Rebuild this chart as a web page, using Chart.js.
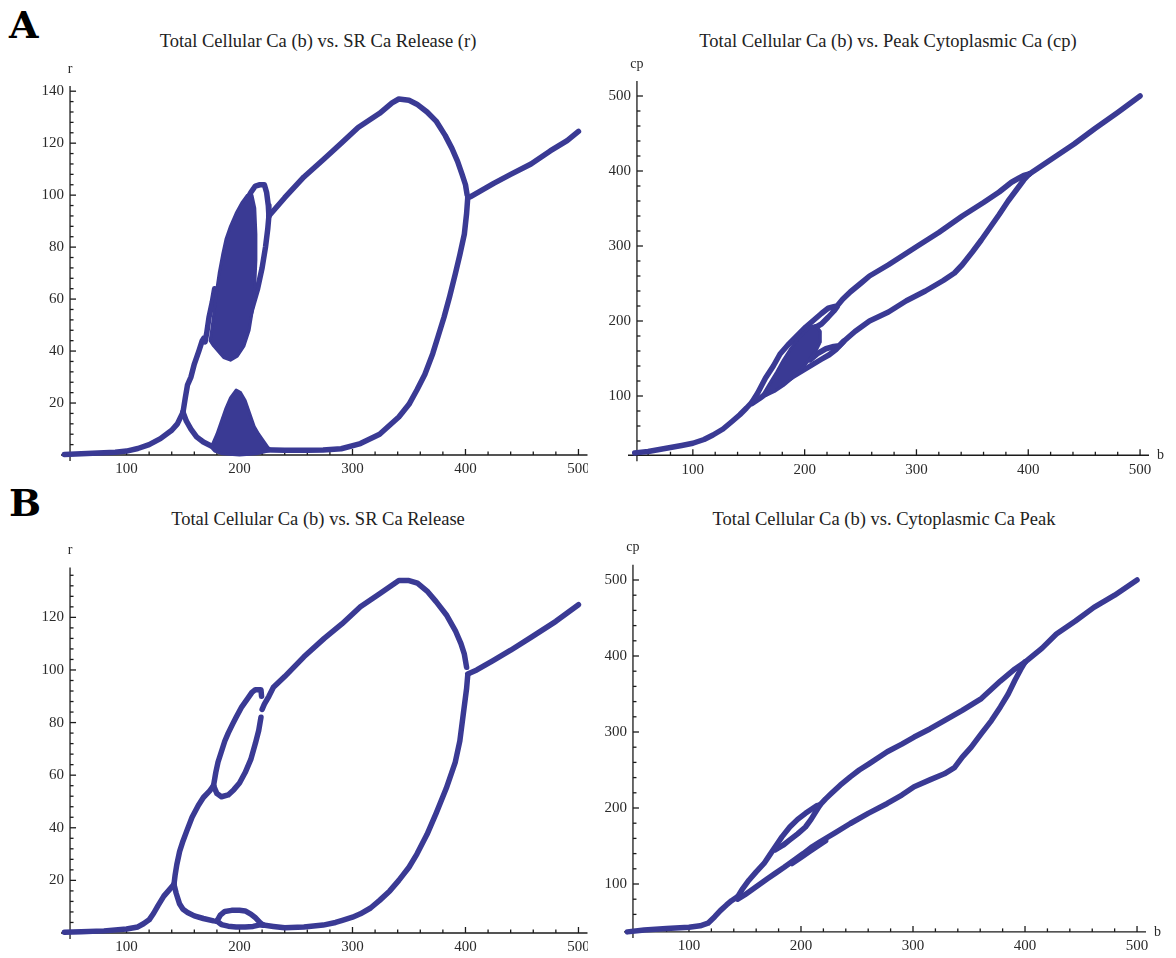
<!DOCTYPE html>
<html>
<head>
<meta charset="utf-8">
<script src="https://cdn.jsdelivr.net/npm/chart.js@4.4.1/dist/chart.umd.min.js"></script>
<style>
  html, body { margin: 0; padding: 0; background: #fff; }
  #page { position: relative; width: 1176px; height: 958px; overflow: hidden; }
  canvas { position: absolute; }
  .title { position: absolute; width: 588px; text-align: center; font: 18.5px "Liberation Serif", serif; color: #222; line-height: 21px; }
  .panel { position: absolute; font: bold 38px "DejaVu Serif", serif; color: #000; }
</style>
</head>
<body>
<div id="page">
  <div class="panel" style="left:9px;top:2px">A</div>
  <div class="panel" style="left:9px;top:480px">B</div>
  <div class="title" id="t0" style="left:24px;top:31px"></div>
  <div class="title" id="t1" style="left:594px;top:31px"></div>
  <div class="title" id="t2" style="left:24px;top:509px"></div>
  <div class="title" id="t3" style="left:590px;top:509px"></div>
  <canvas id="c0" width="588" height="479" style="left:0;top:0"></canvas>
  <canvas id="c1" width="588" height="479" style="left:588px;top:0"></canvas>
  <canvas id="c2" width="588" height="479" style="left:0;top:479px"></canvas>
  <canvas id="c3" width="588" height="479" style="left:588px;top:479px"></canvas>
</div>
<script>
// titres des quatre panneaux
const titles = [
  'Total Cellular Ca (b) vs. SR Ca Release (r)',
  'Total Cellular Ca (b) vs. Peak Cytoplasmic Ca (cp)',
  'Total Cellular Ca (b) vs. SR Ca Release',
  'Total Cellular Ca (b) vs. Cytoplasmic Ca Peak'
]

// graduations
const bTicks = [100, 200, 300, 400, 500]
const aRelTicks = [20, 40, 60, 80, 100, 120, 140]
const bRelTicks = [20, 40, 60, 80, 100, 120]
const cpTicks = [100, 200, 300, 400, 500]

// ---- Panneau A : libération SR r(b) ----
const aRelPeriod1 = [[45,0.2],[50,0.3],[60,0.5],[70,0.7],[80,0.9],[90,1.1],[100,1.5],[110,2.5],[120,4],[130,6.3],[140,9.5],[145,12],[150,16.5]]
const aRelLower = [[150,16.5],[153,13],[157,10],[162,7],[168,5],[175,3.5],[185,2.5],[200,2],[220,2],[240,1.8],[260,1.8],[274,1.9],[290,2.4],[307,4.4],[324,8],[341,14.6],[350,19.5],[357,25],[364,31],[371,39],[376,46],[381,53],[386,61],[391,69.7],[395,77],[399,85],[401,93],[402,99]]
const aRelUpper = [[150,16.5],[152,22],[154,27],[157,30],[160,35],[164,40],[167,44],[168.5,45],[169.5,43.5],[171,47],[173,53],[176,59],[178,64]]
const aRelChaosHigh = [[174,44],[176,50],[178,57],[180,64],[182,70],[185,77],[188,83],[192,88],[197,93],[202,97],[207,100],[211,100],[213.5,95],[214.5,85],[214.5,75],[213.5,65],[211.5,56],[208.5,48],[204,42],[198,38],[192,36.5],[186,37.5],[181,40],[177,42],[174,44]]
const aRelHump = [[200,92],[205,97],[210,101],[214,103.5],[218,104],[222,104],[224,101],[225.5,96],[226,92]]
const aRelRise = [[208,52],[212,58],[216,64],[220,72],[223,80],[225,87],[226,92]]
const aRelLoopTop = [[226,92],[230,94],[240,99],[257,107],[275,114],[290,120],[305,126],[324,131.5],[335,135.5],[341,137],[350,136.5],[357,135],[366,132],[374,128.5],[382,123],[388,118],[393,113],[397,108],[400,104],[401.5,100]]
const aRelChaosLow = [[175,3],[180,8],[184,13],[188,18],[192,22],[197,25],[201,24],[205,21],[209,16],[213,11],[217,8],[221,5.5],[225,3],[228,1.8],[215,0.5],[200,0],[185,0.5],[178,1.5],[175,3]]
const aRelTail = [[402,99],[405,99.5],[415,102],[425,104.5],[440,108],[458,112],[475,117],[490,121],[500,124.5]]

// ---- Panneau A : pic cytoplasmique cp(b) ----
const aCpPeriod1 = [[48,24],[50,24.5],[60,26],[75,30],[90,34],[100,37],[110,42],[118,48],[127,56],[135,66],[142,75],[148,84],[153,92]]
const aCpUpper = [[153,92],[158,104],[165,124],[172,140],[178,156],[185,168],[193,180],[201,192],[208,201],[215,210],[221,217],[226,219],[229,220],[234,229],[241,239],[250,250],[258,260],[275,275],[301,300],[320,318],[341,340],[360,358],[374,372],[385,385],[391,390],[396,394],[401,396]]
const aCpLower = [[153,90],[160,97],[168,106],[176,114],[185,122],[195,131],[205,140],[215,149],[222,155],[228,162],[235,173],[245,186],[258,200],[275,212],[291,227],[308,240],[324,254],[334,264],[341,275],[350,292],[358,308],[366,325],[374,342],[382,360],[391,378],[396,388],[401,396]]
const aCpSmallUp = [[201,186],[208,190],[215,196],[221,205],[226,213],[229,219]]
const aCpSmallLow = [[205,148],[212,157],[219,163],[226,166],[231,167],[235,173]]
const aCpChaos = [[162,100],[168,115],[175,132],[181,148],[187,162],[193,174],[199,184],[205,192],[210,194],[214,186],[214,172],[210,160],[204,148],[197,136],[189,124],[181,114],[173,106],[166,101],[162,100]]
const aCpTail = [[401,396],[420,415],[441,436],[460,457],[480,478],[500,500]]

// ---- Panneau B : libération SR r(b) ----
const bRelPeriod1 = [[45,0.3],[60,0.5],[80,0.8],[100,1.5],[110,2.3],[115,3.5],[120,5],[124,7.5],[128,10.5],[133,14],[138,16.5],[142,18.5]]
const bRelLower = [[142,18.5],[144,15],[147,11],[150,9],[154,7.8],[160,6.5],[168,5.5],[177,4.6],[180,4.5]]
const bRelSmallTop = [[180,4.5],[183,6.8],[187,8.2],[193,8.6],[200,8.6],[205,8.4],[210,7.2],[214,5.8],[218,4],[221,3]]
const bRelSmallBottom = [[180,4.5],[184,3.2],[190,2.6],[197,2.3],[205,2.3],[212,2.5],[217,3],[221,3]]
const bRelRise = [[221,3],[230,2.5],[240,2],[257,2.3],[274,3],[285,4],[291,4.8],[300,6],[307,7.3],[316,9.5],[324,12.4],[333,16],[341,20],[350,25],[357,30],[366,37.5],[374,45.5],[383,55],[391,65],[395,73],[398,83],[401,93],[402,98]]
const bRelUpper = [[142,18.5],[143,22],[144.5,26],[147,31],[150,35],[153.5,39],[158,44],[163.5,48.5],[168,51.5],[173.6,54],[177,56]]
const bRelLoopTop = [[177,56],[179,61],[181,65],[184,69],[187,73],[190,76],[194,79.5],[197,82],[202,86],[207,89],[211,91.5],[214,92.5],[219,92.5],[219.5,90]]
const bRelLoopBottom = [[177,56],[180,53],[184,51.8],[190,52.5],[195,54.5],[200,57],[205,61],[210,66],[214,72],[217,77],[219,82]]
const bRelBigLoop = [[220,85],[222,87],[226,90],[230,93.4],[240,97.5],[257,105],[275,112],[290.6,117.5],[307,124],[324,129],[341,134],[350,134],[357.5,133],[366,130],[374,126],[383,121],[391,115],[396,110],[399,106],[401,101]]
const bRelTail = [[402,98.5],[410,100],[424,103.5],[440,107.5],[458,112.4],[480,118.5],[500,124.8]]

// ---- Panneau B : pic cytoplasmique cp(b) ----
const bCpPeriod1 = [[45,37],[60,39.6],[80,41.5],[100,43],[110,45],[117,48.4],[123,57],[128,65],[133.5,72.4],[138,78],[143.5,83.4]]
const bCpUpper = [[143.5,83.4],[148,94],[153.5,105],[160,116],[167,127],[172,138],[177,149],[183,162],[190,175],[197,185],[204,193],[210,199],[214,203],[217,204],[222,212],[227,219],[235,230],[244,241],[252,250],[261,258.4],[277,274],[290,284],[301,293.4],[315,304],[328,315],[344,328.5],[361,344],[378,367],[391,383],[400,392]]
const bCpSmallLoop = [[177,145],[184,151],[190,158],[197,166],[204,175],[209,185],[214,197],[217,204]]
const bCpLower = [[143.5,80],[150,86],[160,96.5],[170,107],[177,114],[185,122],[194,131.5],[202,140],[210,149],[217,155.6],[230,167],[244,179.6],[260,193],[277,206],[290,217],[301,228],[315,237],[328,245],[337,253],[344,267],[352,280],[361,297.8],[370,315],[378,333],[385,350],[391,368],[396,382],[400,392]]
const bCpDoubled = [[192,127],[200,135],[208,143],[215,150],[222,157]]
const bCpTail = [[400,392],[415,410],[428,429],[445,446],[461.5,464],[480,480],[500,500]]

const INK = 'rgb(58,58,148)'

/** Crée une courbe épaisse (nuage de points reliés) */
function curve( pts, other = undefined ) {
    let ds = {
        data: pts.map( p => ( { x: p[ 0 ], y: p[ 1 ] } ) ),
        showLine: true,
        borderColor: INK,
        backgroundColor: INK,
        borderWidth: 5.5,
        borderCapStyle: 'round',
        borderJoinStyle: 'round',
        pointRadius: 0,
        fill: false,
        tension: 0
    }
    for ( let key in other ) ds[ key ] = other[ key ]
    return ds
}

/** Zone chaotique remplie */
function blob( pts ) {
    return curve( pts, { fill: 'shape', borderWidth: 3 } )
}

/** Axes façon Mathematica : croisement, graduations vers l'intérieur */
const mathAxes = {
    id: 'mathAxes',
    beforeDatasetsDraw( chart, args, opts ) {
        const ctx = chart.ctx
        const ca = chart.chartArea
        const xs = chart.scales.x
        const ys = chart.scales.y
        const y0 = ys.getPixelForValue( opts.cross )
        const x0 = xs.getPixelForValue( 50 )

        ctx.save()
        ctx.strokeStyle = '#1b1b1b'
        ctx.lineWidth = 1.3
        const seg = ( a, b, c, d ) => { ctx.beginPath(); ctx.moveTo( a, b ); ctx.lineTo( c, d ); ctx.stroke() }

        seg( ca.left, y0, ca.right, y0 )
        seg( x0, y0 + 6, x0, ca.top )

        ctx.fillStyle = '#2a2a2a'
        ctx.font = '15px "Liberation Serif", serif'

        // graduations x
        ctx.textAlign = 'center'
        ctx.textBaseline = 'top'
        for ( let v = 60; v <= 500; v += 20 ) {
            const px = xs.getPixelForValue( v )
            const major = opts.xTicks.indexOf( v ) != -1
            seg( px, y0, px, y0 - ( major ? 6 : 3.5 ) )
            if ( major ) ctx.fillText( String( v ), px, y0 + 7 )
        }

        // graduations y
        ctx.textAlign = 'right'
        ctx.textBaseline = 'middle'
        for ( let v = opts.yMinor; v <= opts.yTop; v += opts.yMinor ) {
            if ( v <= opts.cross + 1e-6 ) continue
            const py = ys.getPixelForValue( v )
            const major = opts.yTicks.indexOf( v ) != -1
            seg( x0, py, x0 + ( major ? 6 : 3.5 ), py )
            if ( major ) ctx.fillText( String( v ), x0 - 6, py )
        }

        // noms des axes
        ctx.font = '14px "Liberation Serif", serif'
        ctx.textAlign = 'center'
        ctx.fillText( opts.yName, x0, ca.top - 17 )
        ctx.textAlign = 'left'
        ctx.fillText( 'b', ca.right + 8, y0 )
        ctx.restore()
    }
}

/** Construit un graphe */
function makeChart( id, datasets, pad, yMin, yMax, axes ) {
    return new Chart( document.getElementById( id ), {
        type: 'scatter',
        data: { datasets: datasets },
        options: {
            responsive: false,
            animation: false,
            devicePixelRatio: 1,
            layout: { padding: pad },
            scales: {
                x: { type: 'linear', min: 42, max: 508, display: false },
                y: { type: 'linear', min: yMin, max: yMax, display: false }
            },
            plugins: {
                legend: { display: false },
                tooltip: { enabled: false },
                mathAxes: axes
            }
        },
        plugins: [ mathAxes ]
    } )
}

for ( let i = 0; i < 4; i++ ) document.getElementById( 't' + i ).textContent = titles[ i ]

makeChart( 'c0', [
    blob( aRelChaosHigh ), blob( aRelChaosLow ),
    curve( aRelPeriod1 ), curve( aRelLower ), curve( aRelUpper ), curve( aRelHump ),
    curve( aRelRise ), curve( aRelLoopTop ), curve( aRelTail )
], { left: 61, right: 0.5, top: 86, bottom: 13.6 }, -4, 142,
    { cross: 0, xTicks: bTicks, yTicks: aRelTicks, yMinor: 4, yTop: 140, yName: 'r' } )

makeChart( 'c1', [
    blob( aCpChaos ),
    curve( aCpPeriod1 ), curve( aCpUpper ), curve( aCpLower ), curve( aCpSmallUp ),
    curve( aCpSmallLow ), curve( aCpTail )
], { left: 40, right: 27, top: 81, bottom: 19.25 }, 15, 520,
    { cross: 21, xTicks: bTicks, yTicks: cpTicks, yMinor: 20, yTop: 500, yName: 'cp' } )

makeChart( 'c2', [
    curve( bRelPeriod1 ), curve( bRelLower ), curve( bRelSmallTop ), curve( bRelSmallBottom ),
    curve( bRelRise ), curve( bRelUpper ), curve( bRelLoopTop ), curve( bRelLoopBottom ),
    curve( bRelBigLoop ), curve( bRelTail )
], { left: 61, right: 0.5, top: 88.4, bottom: 14.5 }, -4, 139,
    { cross: 0, xTicks: bTicks, yTicks: bRelTicks, yMinor: 4, yTop: 136, yName: 'r' } )

makeChart( 'c3', [
    curve( bCpPeriod1 ), curve( bCpUpper ), curve( bCpSmallLoop ), curve( bCpLower ),
    curve( bCpDoubled ), curve( bCpTail )
], { left: 36, right: 30, top: 85.8, bottom: 20.8 }, 30, 520,
    { cross: 37, xTicks: bTicks, yTicks: cpTicks, yMinor: 20, yTop: 500, yName: 'cp' } )
</script>
</body>
</html>
